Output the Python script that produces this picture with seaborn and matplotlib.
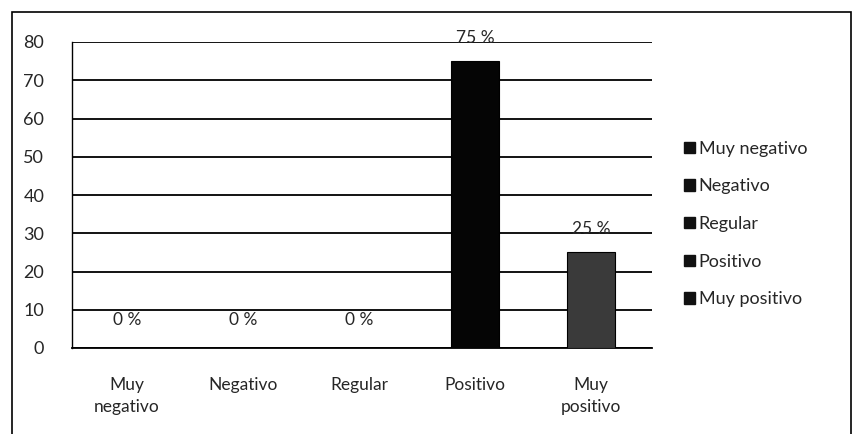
import matplotlib
matplotlib.use("Agg")
import matplotlib.pyplot as plt
import seaborn as sns
import pandas as pd
from matplotlib.patches import Rectangle

# ── Data ──────────────────────────────────────────────────────────────
categories = ["Muy negativo", "Negativo", "Regular", "Positivo", "Muy positivo"]
tick_labels = ["Muy\nnegativo", "Negativo", "Regular", "Positivo", "Muy\npositivo"]
values = [0, 0, 0, 75, 25]
value_labels = ["0 %", "0 %", "0 %", "75 %", "25 %"]
bar_colors = ["#111111", "#111111", "#111111", "#050505", "#3a3a3a"]

sns.set_style("white")
plt.rcParams["font.family"] = ["Lato", "DejaVu Sans"]

df = pd.DataFrame({"cat": categories, "val": values})

fig = plt.figure(figsize=(8.53, 4.34), dpi=100)
ax = fig.add_axes([72 / 853, (434 - 348) / 434, 580 / 853, 306 / 434])

sns.barplot(data=df, x="cat", y="val", hue="cat", palette=bar_colors,
            order=categories, hue_order=categories, width=0.41,
            dodge=False, legend=False, ax=ax, zorder=3,
            edgecolor="#000000", linewidth=0.8)

ax.set_ylim(0, 80)
ax.set_xlim(-0.474, 4.526)
ax.set_yticks(range(0, 81, 10))
ax.yaxis.grid(True, color="black", linewidth=1.3, zorder=0)
ax.set_axisbelow(True)
ax.set_xlabel("")
ax.set_ylabel("")
ax.set_xticks(range(len(categories)))
ax.set_xticklabels(tick_labels, fontsize=12.5, linespacing=1.45)
ax.tick_params(axis="y", length=0, pad=20, labelsize=13)
ax.tick_params(axis="x", length=0, pad=21)
for s in ["top", "right"]:
    ax.spines[s].set_visible(False)
ax.spines["left"].set_color("black")
ax.spines["bottom"].set_color("black")
ax.spines["left"].set_linewidth(1.0)
ax.spines["bottom"].set_linewidth(1.3)

# ── Value labels ──────────────────────────────────────────────────────
for i, (v, lab) in enumerate(zip(values, value_labels)):
    off = 20 if v == 0 else 17
    ax.annotate(lab, (i, v), xytext=(0, off), textcoords="offset points",
                ha="center", va="center", fontsize=12.5)

# ── Legend ────────────────────────────────────────────────────────────
handles = [Rectangle((0, 0), 1, 1, facecolor="#111111", edgecolor="#111111")
           for _ in categories]
fig.legend(handles, categories, loc="center left",
           bbox_to_anchor=(668 / 853, 1 - 224 / 434), frameon=False,
           fontsize=13, handlelength=0.6, handleheight=0.6,
           handletextpad=0.2, labelspacing=1.2)

# ── Outer chart border ────────────────────────────────────────────────
fig.patches.append(Rectangle((12 / 853, -0.01), 839 / 853, 1 - 12 / 434 + 0.01,
                             transform=fig.transFigure, fill=False,
                             edgecolor="black", linewidth=1.2))

fig.savefig("out.png", dpi=100)
plt.close(fig)
